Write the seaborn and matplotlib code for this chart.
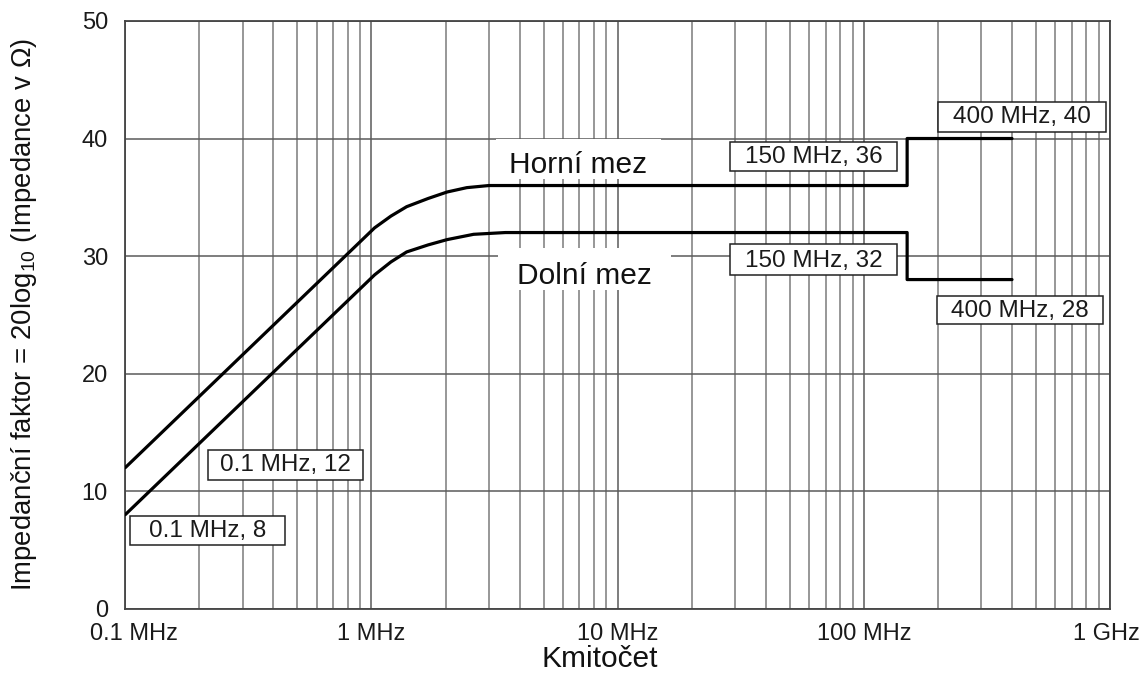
import matplotlib
matplotlib.use("Agg")
import matplotlib.pyplot as plt
from matplotlib.path import Path
from matplotlib.transforms import ScaledTranslation
from matplotlib.ticker import LogLocator, FixedLocator, FixedFormatter, NullFormatter
import pandas as pd
import seaborn as sns

# Impedance-factor limits: frequency in MHz, value in dB(Ohm)
upper_freq = [0.1, 1.03, 1.2, 1.39, 1.7, 2.03, 2.44, 3.0, 150, 150, 400]
upper_db = [12, 32.4, 33.4, 34.2, 34.9, 35.45, 35.82, 36, 36, 40, 40]
lower_freq = [0.1, 1.03, 1.2, 1.39, 1.7, 2.03, 2.6, 3.5, 150, 150, 400]
lower_db = [8, 28.4, 29.5, 30.35, 30.95, 31.4, 31.85, 32, 32, 28, 28]

limit_names = ["Horní mez", "Dolní mez"]
limit_label_freq = [6.92, 7.31]
limit_label_db = [37.05, 27.63]

xtick_values = [0.1, 1, 10, 100, 1000]
xtick_labels = ["0.1 MHz", "1 MHz", "10 MHz", "100 MHz", "1 GHz"]
ytick_values = [0, 10, 20, 30, 40, 50]

corner_texts = ["0.1 MHz, 12", "0.1 MHz, 8", "150 MHz, 36",
                "150 MHz, 32", "400 MHz, 40", "400 MHz, 28"]
corner_text_freq = [0.449, 0.2164, 62.4, 62.4, 440, 432]
corner_text_db = [11.74, 6.13, 37.9, 29.1, 41.3, 24.8]

x_title = "Kmitočet"
y_title = r"Impedanční faktor = 20log$_{\mathrm{10}}$ (Impedance v Ω)"

# box sizes in pixels (width, height, vertical lift)
corner_boxes = [(155, 30, 0), (155, 29, 0), (167, 29, 1),
                (167, 31, 1), (168, 30, 0), (166, 28, 1)]
limit_boxes = [(165, 40, 6), (173, 42, 7)]


def fixed_box(width_px, height_px, lift_px=0.0):
    """Rectangle of fixed pixel size centred on the text."""
    def style(x0, y0, width, height, mutation_size):
        cx = x0 + width / 2.0
        cy = y0 + height / 2.0 + lift_px
        l, r = cx - width_px / 2.0, cx + width_px / 2.0
        b, t = cy - height_px / 2.0, cy + height_px / 2.0
        return Path([(l, b), (r, b), (r, t), (l, t), (l, b)], closed=True)
    return style


sns.set_theme(style="white")
plt.rcParams["font.family"] = ["Liberation Sans", "DejaVu Sans"]
plt.rcParams["mathtext.fontset"] = "custom"
plt.rcParams["mathtext.rm"] = "Liberation Sans"
plt.rcParams["mathtext.it"] = "Liberation Sans:italic"
plt.rcParams["mathtext.bf"] = "Liberation Sans:bold"

fig = plt.figure(figsize=(11.45, 6.92), dpi=100)
ax = fig.add_axes([0.1094, 0.1204, 0.8600, 0.8493])

curves = pd.concat([
    pd.DataFrame({"freq": upper_freq, "db": upper_db, "limit": limit_names[0]}),
    pd.DataFrame({"freq": lower_freq, "db": lower_db, "limit": limit_names[1]}),
], ignore_index=True)

sns.lineplot(data=curves, x="freq", y="db", hue="limit", estimator=None,
             sort=False, palette=["black", "black"], linewidth=2.3,
             legend=False, ax=ax, zorder=4)

ax.set_xscale("log")
ax.set_xlim(0.1, 1000)
ax.set_ylim(0, 50)

ax.xaxis.set_major_locator(FixedLocator(xtick_values))
ax.xaxis.set_major_formatter(FixedFormatter(xtick_labels))
ax.xaxis.set_minor_locator(LogLocator(base=10, subs=[2, 3, 4, 5, 6, 7, 8, 9], numticks=20))
ax.xaxis.set_minor_formatter(NullFormatter())
ax.yaxis.set_major_locator(FixedLocator(ytick_values))

ax.set_axisbelow(True)
ax.grid(which="major", axis="both", color="#5a5a5a", linewidth=1.1)
ax.grid(which="minor", axis="x", color="#7a7a7a", linewidth=1.1)

for side in ["left", "right", "top", "bottom"]:
    ax.spines[side].set_visible(True)
    ax.spines[side].set_color("#444444")
    ax.spines[side].set_linewidth(1.3)

ax.tick_params(axis="both", which="both", length=0, labelsize=17, labelcolor="#1a1a1a")
ax.tick_params(axis="x", pad=10)
ax.tick_params(axis="y", pad=12.5)

# nudge the outer frequency labels inwards a little
xt = ax.get_xticklabels()
xt[0].set_transform(xt[0].get_transform() + ScaledTranslation(9 / 100, 0, fig.dpi_scale_trans))
xt[-1].set_transform(xt[-1].get_transform() + ScaledTranslation(-4 / 100, 0, fig.dpi_scale_trans))

ax.set_xlabel(x_title, fontsize=21.5, color="#111111")
ax.set_ylabel(y_title, fontsize=19.8, color="#111111")
ax.xaxis.set_label_coords(0.482, -0.062)
ax.yaxis.set_label_coords(-0.088, 0.5)

for name, fx, fy, (bw, bh, lift) in zip(limit_names, limit_label_freq, limit_label_db, limit_boxes):
    ax.text(fx, fy, name, ha="center", va="baseline", fontsize=21.5, color="#111111",
            zorder=3, bbox=dict(boxstyle=fixed_box(bw, bh, lift), facecolor="white",
                                edgecolor="none"))

for txt, fx, fy, (bw, bh, lift) in zip(corner_texts, corner_text_freq, corner_text_db, corner_boxes):
    ax.text(fx, fy, txt, ha="center", va="baseline", fontsize=17.5, color="#1a1a1a",
            zorder=3, bbox=dict(boxstyle=fixed_box(bw, bh, lift), facecolor="white",
                                edgecolor="#222222", linewidth=1.1))

fig.savefig("out.png", dpi=100)
